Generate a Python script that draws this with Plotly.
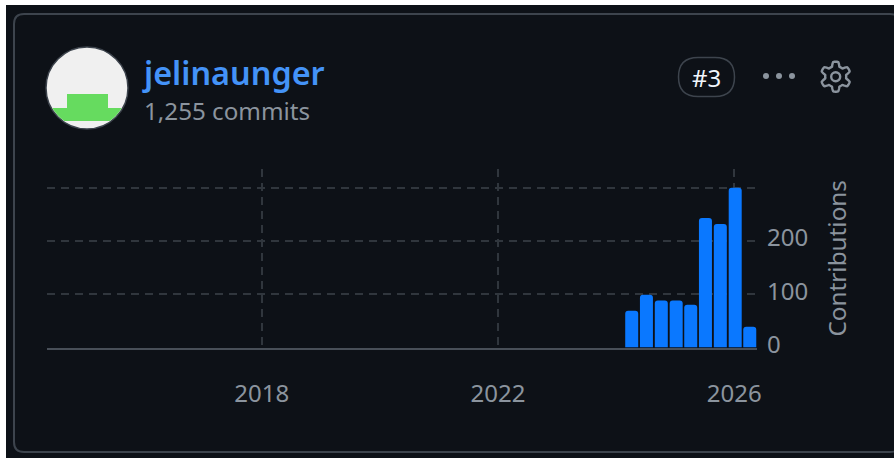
import math
import plotly.graph_objects as go

W, H = 894, 458

# Data
quarters = ["2024-04-01", "2024-07-01", "2024-10-01", "2025-01-01", "2025-04-01",
            "2025-07-01", "2025-10-01", "2026-01-01", "2026-04-01"]
contributions = [69, 99, 88, 88, 80, 243, 232, 300, 39]
user_name = "jelinaunger"
commit_label = "1,255 commits"
rank_label = "#3"
y_ticks = [0, 100, 200, 300]
y_tick_labels = ["0", "100", "200", ""]
x_ticks = ["2018-01-01", "2022-01-01", "2026-01-01"]
x_tick_labels = ["2018", "2022", "2026"]

FONT = "Noto Sans"
GREY = "#8b949e"
GRID = "#30363d"
BORDER = "#3d444d"
BG = "#0d1117"
BAR = "#0a78ff"


def px(x):
    return x / W


def py(y):
    return 1 - y / H


def P(x, y):
    return f"{px(x):.5f},{py(y):.5f}"


def rrect(x0, y0, x1, y1, r):
    return (f"M{P(x0 + r, y0)} L{P(x1 - r, y0)} Q{P(x1, y0)} {P(x1, y0 + r)} "
            f"L{P(x1, y1 - r)} Q{P(x1, y1)} {P(x1 - r, y1)} L{P(x0 + r, y1)} "
            f"Q{P(x0, y1)} {P(x0, y1 - r)} L{P(x0, y0 + r)} Q{P(x0, y0)} {P(x0 + r, y0)} Z")


def circle(cx, cy, r, **kw):
    return dict(type="circle", xref="paper", yref="paper", x0=px(cx - r), x1=px(cx + r),
                y0=py(cy + r), y1=py(cy - r), **kw)


def poly(points):
    return "M" + " L".join(P(a, b) for a, b in points) + " Z"


def gear_path(cx, cy, ro, ri, teeth=6):
    pts = []
    n = teeth * 24
    for i in range(n):
        a = 2 * math.pi * i / n - math.pi / 2
        t = math.cos(teeth * a + teeth * math.pi / 2)
        s = max(-1.0, min(1.0, t * 1.8))
        r = (ro + ri) / 2 + (ro - ri) / 2 * s
        pts.append((cx + r * math.cos(a), cy + r * math.sin(a)))
    return poly(pts)


# Avatar geometry
acx, acy, ar = 87, 88, 40
seg = []
for k in range(0, 21):
    yy = 108 + 13 * k / 20
    seg.append((acx + math.sqrt(ar ** 2 - (yy - acy) ** 2), yy))
for k in range(20, -1, -1):
    yy = 108 + 13 * k / 20
    seg.append((acx - math.sqrt(ar ** 2 - (yy - acy) ** 2), yy))

shapes = [
    dict(type="rect", xref="paper", yref="paper", x0=px(6), x1=1, y0=0, y1=py(5),
         fillcolor=BG, line_width=0, layer="below"),
    dict(type="path", xref="paper", yref="paper", path=rrect(14, 14, 900, 452, 10),
         fillcolor=BG, line=dict(color=BORDER, width=2), layer="below"),
    circle(acx, acy, ar + 1, fillcolor="#f0f0f0", line=dict(color="#3d444d", width=1.5), layer="below"),
    dict(type="path", xref="paper", yref="paper", path=poly(seg), fillcolor="#66db5f", line_width=0, layer="below"),
    dict(type="rect", xref="paper", yref="paper", x0=px(67), x1=px(108), y0=py(109), y1=py(94),
         fillcolor="#66db5f", line_width=0, layer="below"),
    dict(type="path", xref="paper", yref="paper", path=rrect(678.5, 57.5, 734.5, 96.5, 19.5),
         fillcolor=BG, line=dict(color=BORDER, width=1.5), layer="below"),
    circle(766, 76, 3, fillcolor=GREY, line_width=0, layer="below"),
    circle(779, 76, 3, fillcolor=GREY, line_width=0, layer="below"),
    circle(792, 76, 3, fillcolor=GREY, line_width=0, layer="below"),
    dict(type="path", xref="paper", yref="paper", path=gear_path(835.7, 76.7, 15, 10.5),
         fillcolor="rgba(0,0,0,0)", line=dict(color=GREY, width=2.4), layer="below"),
    circle(835.7, 76.7, 4.5, fillcolor="rgba(0,0,0,0)", line=dict(color=GREY, width=2.4), layer="below"),
]


def note(text, x, y, size, color, anchor="left", weight=400):
    return dict(text=text, x=px(x), y=py(y), xref="paper", yref="paper", xanchor=anchor, yanchor="middle",
                showarrow=False, font=dict(family=FONT, size=size, color=color, weight=weight))


annotations = [
    note(user_name, 140, 72, 32.4, "#4493f8", weight=600),
    note(commit_label, 142, 111, 24.2, GREY),
    note(rank_label, 706, 77, 24, "#f0f6fc", anchor="center"),
]

ms_per_px = 365.25 * 86400000 / 59
bar_width_ms = 13 * ms_per_px
bar_offset_ms = -5.5 * ms_per_px

fig = go.Figure(go.Bar(x=quarters, y=contributions, width=bar_width_ms, offset=bar_offset_ms,
                       marker=dict(color=BAR, line_width=0, cornerradius=3)))
fig.update_layout(
    width=W, height=H, margin=dict(l=0, r=0, t=0, b=0, pad=0, autoexpand=False), autosize=False,
    paper_bgcolor="#ffffff", plot_bgcolor="rgba(0,0,0,0)", showlegend=False,
    shapes=shapes, annotations=annotations,
    font=dict(family=FONT, color=GREY, size=24),
    xaxis=dict(type="date", domain=[px(47), px(757)], range=["2014-05-14", "2026-05-22"],
               tickmode="array", tickvals=x_ticks, ticktext=x_tick_labels, automargin=False,
               showgrid=True, gridcolor=GRID, griddash="8px,6px", gridwidth=1.5,
               showline=True, linecolor="#484f58", linewidth=2,
               ticks="", ticklabelstandoff=24, zeroline=False, anchor="y",
               tickfont=dict(family=FONT, size=24, color=GREY)),
    yaxis=dict(domain=[py(347.5), py(169)], range=[0, 335], side="right", anchor="x",
               tickmode="array", tickvals=y_ticks, ticktext=y_tick_labels, automargin=False,
               showgrid=True, gridcolor=GRID, griddash="8px,6px", gridwidth=1.5,
               zeroline=False, ticks="", ticklabelstandoff=9, ticklabelshift=-3,
               tickfont=dict(family=FONT, size=24, color=GREY),
               title=dict(text="Contributions", standoff=21, font=dict(family=FONT, size=24.3, color=GREY))),
)

fig.write_html("out.html", config=dict(displayModeBar=False),
               post_script="document.body.style.margin='0';document.body.style.overflow='hidden';")
